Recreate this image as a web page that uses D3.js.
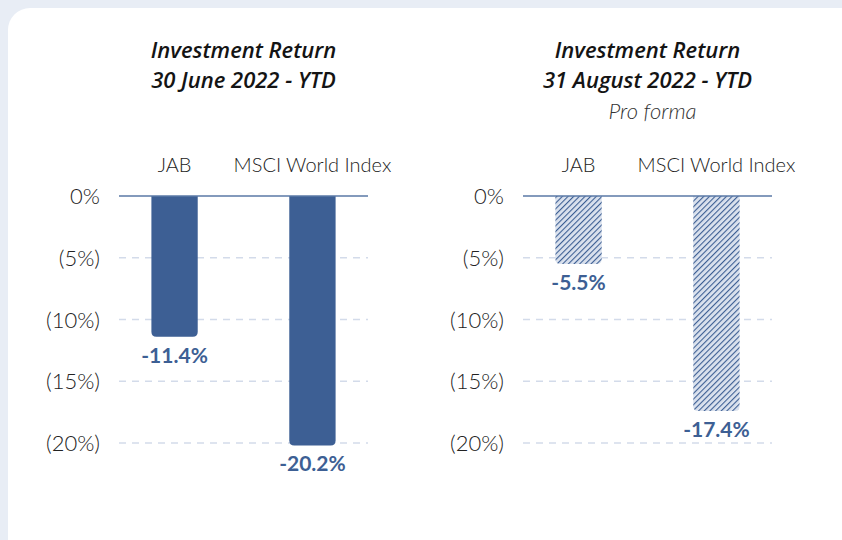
<!DOCTYPE html>
<html>
<head>
<meta charset="utf-8">
<script src="https://cdn.jsdelivr.net/npm/d3@7"></script>
<style>
  html, body { margin: 0; padding: 0; background: #e8edf5; }
  svg { display: block; font-family: "Lato", "Open Sans", sans-serif; }
</style>
</head>
<body>
<svg id="chart" width="842" height="540"></svg>
<script>
// two panels of the same bar chart: reported YTD vs pro forma YTD
const categories = ['JAB', 'MSCI World Index'];
const juneValues = [-11.4, -20.2];
const augustValues = [-5.5, -17.4];
const tickValues = [0, -5, -10, -15, -20];

const panels = [
  { title: ['Investment Return', '30 June 2022 - YTD'], sub: null, values: juneValues, hatched: false, x0: 119 },
  { title: ['Investment Return', '31 August 2022 - YTD'], sub: 'Pro forma', values: augustValues, hatched: true, x0: 523 },
];

const blue = '#3d5f94';
const svg = d3.select('#chart');

// white card
svg.append('rect')
  .attr('x', 8).attr('y', 8).attr('width', 860).attr('height', 560)
  .attr('rx', 22).attr('fill', '#fff');

// diagonal hatch for pro forma bars
const defs = svg.append('defs');
const pat = defs.append('pattern')
  .attr('id', 'hatch')
  .attr('patternUnits', 'userSpaceOnUse')
  .attr('width', 4).attr('height', 4)
  .attr('patternTransform', 'rotate(45)');
pat.append('rect').attr('width', 4).attr('height', 4).attr('fill', '#dbe2ee');
pat.append('line')
  .attr('x1', 0).attr('y1', 0).attr('x2', 0).attr('y2', 4)
  .attr('stroke', blue).attr('stroke-width', 2.2);

const y = d3.scaleLinear().domain([0, -20]).range([196, 443]);
const fmtTick = (v) => (v === 0 ? '0%' : `(${Math.abs(v)}%)`);

// bar hanging down from zero, bottom corners rounded
function barPath(x, w, y0, y1, r) {
  return `M${x},${y0}H${x + w}V${y1 - r}Q${x + w},${y1} ${x + w - r},${y1}` +
         `H${x + r}Q${x},${y1} ${x},${y1 - r}Z`;
}

panels.forEach((p) => {
  const x = d3.scaleBand()
    .domain(categories)
    .range([p.x0, p.x0 + 249])
    .paddingInner(0.664)
    .paddingOuter(0.235);
  const cx = p.x0 + 124.5;
  const g = svg.append('g');

  // title block
  g.selectAll('text.title')
    .data(p.title)
    .join('text')
    .attr('class', 'title')
    .attr('x', cx)
    .attr('y', (d, i) => 58 + i * 30)
    .attr('text-anchor', 'middle')
    .attr('font-family', '"Open Sans", sans-serif')
    .attr('font-size', 22)
    .attr('font-weight', 600)
    .attr('font-style', 'italic')
    .attr('fill', '#141414')
    .text((d) => d);
  if (p.sub) {
    g.append('text')
      .attr('x', cx + 5).attr('y', 119)
      .attr('text-anchor', 'middle')
      .attr('font-size', 22).attr('font-style', 'italic').attr('font-weight', 300)
      .attr('fill', '#333')
      .text(p.sub);
  }

  // category labels above the chart
  g.selectAll('text.cat')
    .data(categories)
    .join('text')
    .attr('class', 'cat')
    .attr('x', (d) => x(d) + x.bandwidth() / 2)
    .attr('y', 172)
    .attr('text-anchor', 'middle')
    .attr('font-size', 20).attr('font-weight', 300)
    .attr('fill', '#222')
    .text((d) => d);

  // gridlines + tick labels
  g.selectAll('line.grid')
    .data(tickValues.filter((v) => v !== 0))
    .join('line')
    .attr('class', 'grid')
    .attr('x1', p.x0).attr('x2', p.x0 + 249)
    .attr('y1', (d) => y(d)).attr('y2', (d) => y(d))
    .attr('stroke', '#d3dbea').attr('stroke-width', 1.3)
    .attr('stroke-dasharray', '7,6');

  g.selectAll('text.tick')
    .data(tickValues)
    .join('text')
    .attr('class', 'tick')
    .attr('x', p.x0 - 19)
    .attr('y', (d) => y(d) + 8)
    .attr('text-anchor', 'end')
    .attr('font-size', 22).attr('font-weight', 300)
    .attr('fill', '#222')
    .text(fmtTick);

  // bars
  g.selectAll('path.bar')
    .data(p.values)
    .join('path')
    .attr('class', 'bar')
    .attr('d', (v, i) => barPath(x(categories[i]), x.bandwidth(), y(0), y(v), 5))
    .attr('fill', p.hatched ? 'url(#hatch)' : blue);

  // zero line
  g.append('line')
    .attr('x1', p.x0).attr('x2', p.x0 + 249)
    .attr('y1', y(0)).attr('y2', y(0))
    .attr('stroke', '#5a78a6').attr('stroke-width', 1.6);

  // value labels
  g.selectAll('text.val')
    .data(p.values)
    .join('text')
    .attr('class', 'val')
    .attr('x', (v, i) => x(categories[i]) + x.bandwidth() / 2)
    .attr('y', (v) => y(v) + 26)
    .attr('text-anchor', 'middle')
    .attr('font-size', 21).attr('font-weight', 700)
    .attr('fill', blue)
    .text((v) => `${v.toFixed(1)}%`);
});
</script>
</body>
</html>
